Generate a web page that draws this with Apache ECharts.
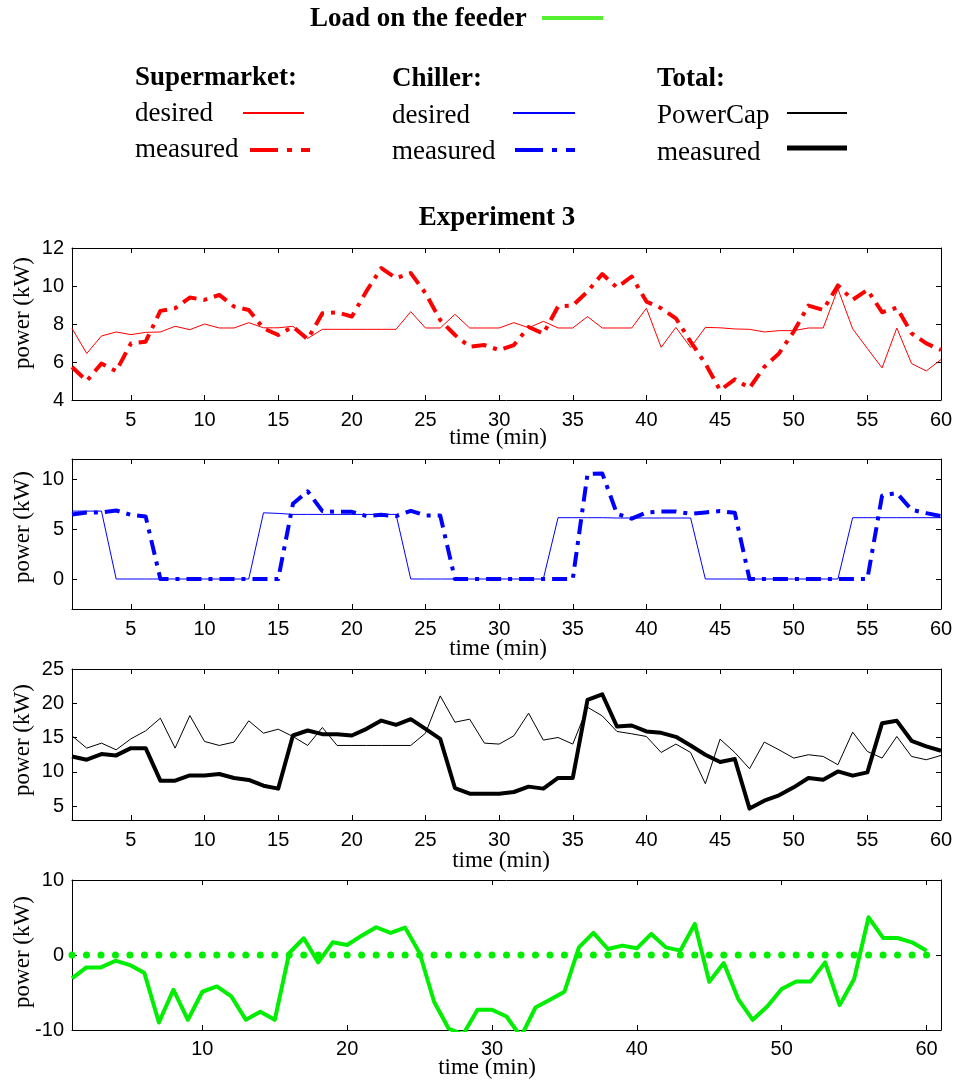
<!DOCTYPE html>
<html><head><meta charset="utf-8">
<script src="https://cdn.jsdelivr.net/npm/echarts@6/dist/echarts.min.js"></script>
<style>html,body{margin:0;padding:0;background:#fff}#c{width:959px;height:1081px}</style>
</head><body><div id="c"></div>
<script>
// ---------- data ----------
const minutes = [1,2,3,4,5,6,7,8,9,10,11,12,13,14,15,16,17,18,19,20,21,22,23,24,25,26,27,28,29,30,
  31,32,33,34,35,36,37,38,39,40,41,42,43,44,45,46,47,48,49,50,51,52,53,54,55,56,57,58,59,60];

const smDesired = [7.77,6.45,7.37,7.58,7.44,7.56,7.58,7.88,7.7,8.0,7.79,7.79,8.07,7.8,7.8,7.88,7.24,7.72,7.72,7.72,
  7.72,7.72,7.72,8.65,7.79,7.79,8.51,7.79,7.79,7.79,8.07,7.8,8.14,7.79,7.79,8.39,7.79,7.79,7.79,8.83,
  6.77,7.82,6.77,7.82,7.8,7.74,7.72,7.58,7.65,7.65,7.79,7.79,9.85,7.75,6.71,5.69,7.79,5.92,5.53,6.13];
const smMeasured = [5.74,5.0,5.92,5.52,6.98,7.07,8.69,8.83,9.39,9.27,9.53,8.92,8.74,7.77,7.42,7.86,7.2,8.56,8.62,8.39,
  9.74,10.94,10.41,10.68,9.62,8.21,7.42,6.8,6.89,6.63,6.89,7.84,7.49,8.92,8.97,9.71,10.63,9.92,10.5,9.18,
  8.83,8.3,7.07,5.92,4.51,5.09,4.63,5.74,6.45,7.6,8.97,8.74,10.03,9.27,9.8,8.62,8.86,7.51,6.98,6.63];

const chDesired = [6.79,6.79,6.79,0,0,0,0,0,0,0,0,0,0,6.62,6.56,6.46,6.46,6.46,6.46,6.46,
  6.46,6.46,6.46,0,0,0,0,0,0,0,0,0,0,6.13,6.13,6.13,6.13,6.1,6.1,6.1,
  6.1,6.1,6.1,0,0,0,0,0,0,0,0,0,0,6.13,6.13,6.13,6.13,6.13,6.13,6.13];
const chMeasured = [6.46,6.66,6.66,6.85,6.42,6.26,0,0,0,0,0,0,0,0,0,7.52,8.77,6.79,6.72,6.72,
  6.29,6.42,6.29,6.82,6.36,6.36,0,0,0,0,0,0,0,0,0,10.5,10.56,6.52,6.03,6.66,
  6.75,6.75,6.52,6.66,6.79,6.62,0,0,0,0,0,0,0,0,0,8.34,8.61,6.92,6.59,6.29];

const totalPowerCap = [15.27,13.47,14.2,13.23,14.83,15.99,17.83,13.47,18.22,14.44,13.86,14.35,17.45,15.65,16.23,15.17,13.86,16.48,13.86,13.86,
  13.86,13.86,13.86,13.86,15.65,21.08,17.25,17.69,14.2,14.06,15.27,18.56,14.64,15.02,14.06,19.43,18.17,15.9,15.56,15.17,
  12.84,14.06,12.84,8.29,14.78,12.84,10.47,14.35,13.23,12.02,12.51,12.26,11.05,15.8,12.99,12.02,15.17,12.26,11.78,12.41];
const totalMeasured = [12.26,11.78,12.6,12.41,13.47,13.47,8.73,8.73,9.5,9.5,9.7,9.12,8.83,8.0,7.57,15.31,16.04,15.51,15.51,15.31,
  16.28,17.49,16.86,17.69,16.28,14.83,7.66,6.84,6.84,6.84,7.08,7.86,7.57,9.12,9.12,20.5,21.32,16.62,16.77,15.9,
  15.7,15.12,13.86,12.51,11.44,11.88,4.66,5.82,6.6,7.76,9.12,8.87,10.08,9.46,9.94,17.11,17.45,14.54,13.72,13.09];

const feederLoad = [-3.12,-1.65,-1.65,-0.76,-1.34,-2.41,-9.0,-4.63,-8.64,-4.9,-4.19,-5.52,-8.64,-7.57,-8.64,0.27,2.23,-0.98,1.69,1.34,
  2.58,3.7,2.94,3.65,0.27,-6.24,-9.8,-10.6,-7.3,-7.3,-8.2,-10.9,-7.0,-5.97,-4.9,1.02,2.94,0.8,1.25,0.89,
  2.81,1.02,0.58,4.14,-3.56,-1.07,-5.88,-8.64,-6.86,-4.54,-3.52,-3.52,-0.98,-6.68,-3.21,5.03,2.27,2.27,1.69,0.58];
const feederRef = [0,0,0,0,0,0,0,0,0,0,0,0,0,0,0,0,0,0,0,0,0,0,0,0,0,0,0,0,0,0,
  0,0,0,0,0,0,0,0,0,0,0,0,0,0,0,0,0,0,0,0,0,0,0,0,0,0,0,0,0,0];

const xTicks5 = [5,10,15,20,25,30,35,40,45,50,55,60];
const xTicks10 = [10,20,30,40,50,60];
const yTicks1 = [4,6,8,10,12];
const yTicks2 = [0,5,10];
const yTicks3 = [5,10,15,20,25];
const yTicks4 = [-10,0,10];

// ---------- layout ----------
const SERIF = '"Liberation Serif", "Times New Roman", serif';
const SANS = '"Liberation Sans", Arial, sans-serif';
const grids = [
  {left: 72, top: 248, width: 869, height: 152},
  {left: 72, top: 459, width: 869, height: 150},
  {left: 72, top: 669, width: 869, height: 151},
  {left: 72, top: 880, width: 869, height: 150}
];
const panelAxes = [
  {xmin: 1, xmax: 60, xsplit: 12, xticks: xTicks5, ymin: 4, ymax: 12, ysplit: 4, yticks: yTicks1, xmargin: 10},
  {xmin: 1, xmax: 60, xsplit: 12, xticks: xTicks5, ymin: -3, ymax: 12, ysplit: 3, yticks: yTicks2, xmargin: 10},
  {xmin: 1, xmax: 60, xsplit: 12, xticks: xTicks5, ymin: 3, ymax: 25, ysplit: 4, yticks: yTicks3, xmargin: 10},
  {xmin: 1, xmax: 61, xsplit: 6, xticks: xTicks10, ymin: -10, ymax: 10, ysplit: 2, yticks: yTicks4, xmargin: 9}
];

const xAxes = [], yAxes = [];
panelAxes.forEach((p, i) => {
  const lineS = {show: true, onZero: false, lineStyle: {color: '#000', width: 1}};
  const tickS = {show: true, inside: true, length: 5, lineStyle: {color: '#000', width: 1}};
  xAxes.push({
    type: 'value', gridIndex: i, position: 'bottom', min: p.xmin, max: p.xmax, splitNumber: p.xsplit,
    axisLine: lineS, axisTick: tickS, splitLine: {show: false},
    axisLabel: {color: '#000', fontFamily: SANS, fontSize: 20, margin: p.xmargin,
      formatter: v => p.xticks.includes(v) ? String(v) : ''}
  });
  xAxes.push({
    type: 'value', gridIndex: i, position: 'top', min: p.xmin, max: p.xmax, splitNumber: p.xsplit,
    axisLine: lineS, axisTick: tickS, splitLine: {show: false}, axisLabel: {show: false}
  });
  yAxes.push({
    type: 'value', gridIndex: i, position: 'left', min: p.ymin, max: p.ymax, splitNumber: p.ysplit,
    axisLine: lineS, axisTick: tickS, splitLine: {show: false},
    axisLabel: {color: '#000', fontFamily: SANS, fontSize: 20, margin: 8,
      formatter: v => p.yticks.includes(v) ? String(v) : ''}
  });
  yAxes.push({
    type: 'value', gridIndex: i, position: 'right', min: p.ymin, max: p.ymax, splitNumber: p.ysplit,
    axisLine: lineS, axisTick: tickS, splitLine: {show: false}, axisLabel: {show: false}
  });
});

const pair = arr => arr.map((v, k) => [minutes[k], v]);
const DASHDOT = [15, 7, 4, 7];
function lineSeries(panel, data, color, width, dash, z) {
  return {
    type: 'line', xAxisIndex: panel * 2, yAxisIndex: panel * 2, data: pair(data),
    symbol: 'none', z: z, clip: true,
    lineStyle: {color: color, width: width, type: dash || 'solid', cap: 'butt', join: 'round'}
  };
}

const series = [
  lineSeries(0, smDesired, '#ff0000', 1, null, 2),
  lineSeries(0, smMeasured, '#ff0000', 4, DASHDOT, 3),
  lineSeries(1, chDesired, '#0000ff', 1, null, 2),
  lineSeries(1, chMeasured, '#0000ff', 4, DASHDOT, 3),
  lineSeries(2, totalPowerCap, '#000000', 1, null, 2),
  lineSeries(2, totalMeasured, '#000000', 4, null, 3),
  {
    type: 'line', xAxisIndex: 6, yAxisIndex: 6, data: pair(feederRef), z: 2,
    symbol: 'circle', symbolSize: 7, showSymbol: true,
    itemStyle: {color: '#00ee00'}, lineStyle: {width: 0, opacity: 0}
  },
  lineSeries(3, feederLoad, '#00ee00', 4, null, 3)
];

// ---------- text / legend ----------
function txt(x, y, s, font, align, rot) {
  const o = {type: 'text', x: x, y: y, z: 100,
    style: {text: s, font: font, fill: '#000', textAlign: align || 'left', textVerticalAlign: 'middle', verticalAlign: 'middle'}};
  if (rot) o.rotation = rot;
  return o;
}
function seg(x1, x2, y, color, w, dash) {
  return {type: 'line', z: 100, shape: {x1: x1, y1: y, x2: x2, y2: y},
    style: {stroke: color, lineWidth: w, lineDash: dash || null, lineCap: 'butt'}};
}
const BOLD = 'bold 27px ' + SERIF;
const REG = '27px ' + SERIF;
const NAME = '23px ' + SERIF;
const LEG_DASH = [28, 9, 5, 9];

const graphic = [
  txt(310, 19, 'Load on the feeder', BOLD),
  seg(542, 603, 18, '#55f030', 4),
  txt(135, 78, 'Supermarket:', BOLD),
  txt(135, 114, 'desired', REG),
  seg(243, 304, 113, '#ff0000', 2),
  txt(135, 150, 'measured', REG),
  seg(250, 310, 150, '#ff0000', 4, LEG_DASH),
  txt(392, 79, 'Chiller:', BOLD),
  txt(392, 116, 'desired', REG),
  seg(513, 575, 113, '#0000ff', 2),
  txt(392, 152, 'measured', REG),
  seg(515, 575, 150, '#0000ff', 4, LEG_DASH),
  txt(657, 79, 'Total:', BOLD),
  txt(657, 116, 'PowerCap', REG),
  seg(787, 847, 113, '#000000', 2),
  txt(657, 153, 'measured', REG),
  seg(787, 847, 148, '#000000', 5),
  txt(497, 218, 'Experiment 3', BOLD, 'center'),
  txt(498, 438, 'time (min)', NAME, 'center'),
  txt(498, 649, 'time (min)', NAME, 'center'),
  txt(501, 861, 'time (min)', NAME, 'center'),
  txt(487, 1068, 'time (min)', NAME, 'center'),
  txt(23, 313, 'power (kW)', NAME, 'center', Math.PI / 2),
  txt(23, 527, 'power (kW)', NAME, 'center', Math.PI / 2),
  txt(23, 740, 'power (kW)', NAME, 'center', Math.PI / 2),
  txt(23, 952, 'power (kW)', NAME, 'center', Math.PI / 2)
];

const chart = echarts.init(document.getElementById('c'), null, {renderer: 'canvas'});
chart.setOption({
  backgroundColor: '#ffffff',
  animation: false,
  grid: grids,
  xAxis: xAxes,
  yAxis: yAxes,
  series: series,
  graphic: graphic
});
</script></body></html>
